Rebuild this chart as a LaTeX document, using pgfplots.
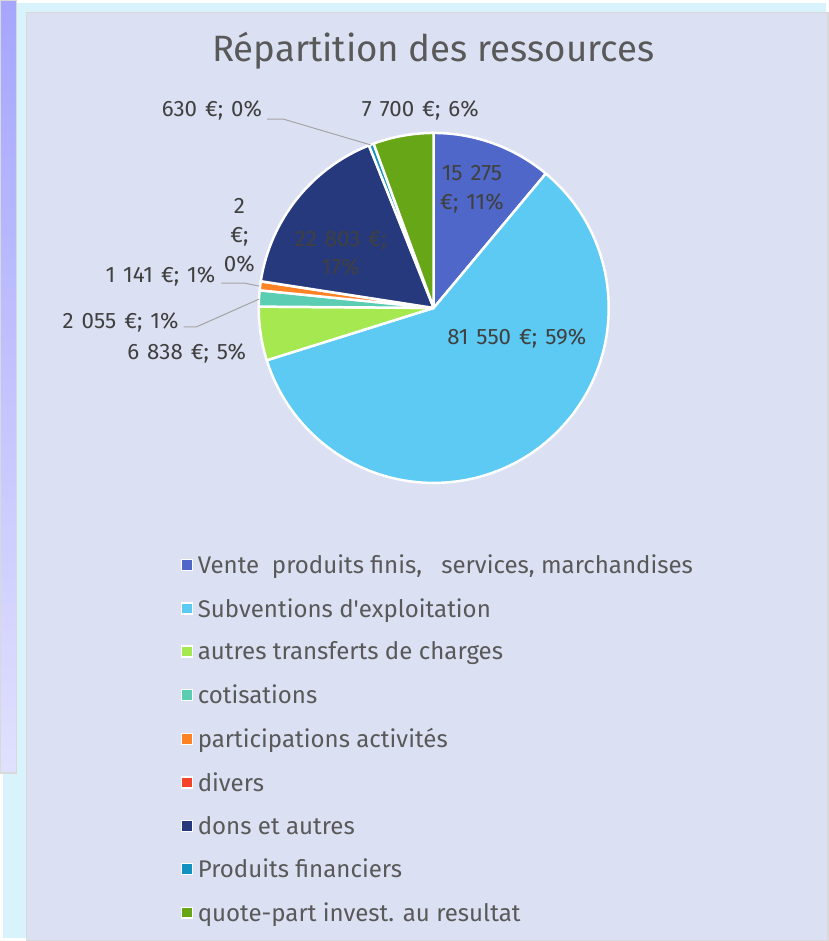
\documentclass[border=0pt]{standalone}
\usepackage{pgfplots}
\pgfplotsset{compat=1.18}
\usepackage{pgfplotstable}
\usepackage{fontspec}
\setmainfont{Fira Sans}
\newfontfamily\etiq[WordSpace=1.35]{Fira Sans}

% couleurs des parts (ordre de la legende)
\definecolor{s0}{HTML}{4F67C8}
\definecolor{s1}{HTML}{5CCAF2}
\definecolor{s2}{HTML}{A6E850}
\definecolor{s3}{HTML}{5ACDB2}
\definecolor{s4}{HTML}{FF8225}
\definecolor{s5}{HTML}{F44326}
\definecolor{s6}{HTML}{27397D}
\definecolor{s7}{HTML}{1192C0}
\definecolor{s8}{HTML}{67A616}
\definecolor{panel}{HTML}{DCE0F3}
\definecolor{txt}{HTML}{404040}
\definecolor{ttl}{HTML}{595959}
\definecolor{leader}{HTML}{A5A5A5}

% ressources en euros
\pgfplotstableread{
valeur
15275
81550
6838
2055
1141
2
22803
630
7700
}\ressources

\begin{document}
\begin{tikzpicture}
% angles des parts, depuis midi, sens horaire (\fpeval : pas de limite a 16383)
\xdef\total{0}
\pgfplotsforeachungrouped \i in {0,...,8}{%
  \pgfplotstablegetelem{\i}{valeur}\of\ressources
  \xdef\total{\fpeval{\total+\pgfplotsretval}}%
}
\xdef\cum{0}
\pgfplotsforeachungrouped \i in {0,...,8}{%
  \pgfplotstablegetelem{\i}{valeur}\of\ressources
  \expandafter\xdef\csname deb\i\endcsname{\fpeval{round(90-360*\cum/\total,4)}}%
  \xdef\cum{\fpeval{\cum+\pgfplotsretval}}%
  \expandafter\xdef\csname fin\i\endcsname{\fpeval{round(90-360*\cum/\total,4)}}%
}
\begin{axis}[width=828bp,height=941bp,scale only axis,
  xmin=0,xmax=828,ymin=0,ymax=941,hide axis,clip=false,
  legend style={at={(axis cs:176,390)},anchor=north west,draw=none,fill=none,
    font=\fontsize{24.3}{28}\selectfont,text=ttl,row sep=19.5bp,
    nodes={inner xsep=4.5bp}},
  legend cell align=left,
  legend image code/.code={\draw[#1,draw=white,line width=1.5bp] (0bp,-5.5bp) rectangle (11bp,5.5bp);}]
% fond
\fill[fill=white!85!cyan] (axis cs:0,0) rectangle (axis cs:828,941);
\shade[top color=blue!35!white,bottom color=blue!12!white,draw=black!15,line width=1.5bp]
  (axis cs:-2,166) rectangle (axis cs:14,943);
\fill[panel,draw=black!15,line width=1.5bp] (axis cs:24,-2) rectangle (axis cs:830,931);
% titre
\node[text=ttl,font=\fontsize{37}{42}\selectfont] at (axis cs:433,893) {Répartition des ressources};
% parts
\pgfplotsinvokeforeach{0,...,8}{%
  \edef\tmp{\noexpand\fill[s#1,draw=white,line width=2.5bp,line join=round]
    (axis cs:433.5,634) -- ++(\csname deb#1\endcsname:176bp)
    arc[start angle=\csname deb#1\endcsname,end angle=\csname fin#1\endcsname,radius=176bp] -- cycle;}%
  \tmp
}
% lignes de rappel
\draw[leader,line width=1bp] (axis cs:266,824) -- (axis cs:282,824) -- (axis cs:370,798);
\draw[leader,line width=1bp] (axis cs:220,659) -- (axis cs:243,659) -- (axis cs:258,656);
\draw[leader,line width=1bp] (axis cs:182,615) -- (axis cs:195,615) -- (axis cs:258,643);
% etiquettes
\begin{scope}[every node/.style={text=txt,font=\etiq\fontsize{22.5}{29}\selectfont,inner sep=1bp}]
\node[anchor=east] at (axis cs:262,833) {630 €; 0\%};
\node at (axis cs:420,833) {7 700 €; 6\%};
\node[align=center] at (axis cs:472,753) {15 275\\€; 11\%};
\node at (axis cs:517,603) {81 550 €; 59\%};
\node[align=center] at (axis cs:340,689) {22 803 €;\\17\%};
\node[align=center] at (axis cs:238,707) {2\\€;\\0\%};
\node[anchor=east] at (axis cs:215,666) {1 141 €; 1\%};
\node[anchor=east] at (axis cs:178,619) {2 055 €; 1\%};
\node[anchor=east] at (axis cs:246,588) {6 838 €; 5\%};
\end{scope}
% legende
\addlegendimage{fill=s0}\addlegendentry{Vente\ \ produits finis,\ \ \ services, marchandises}
\addlegendimage{fill=s1}\addlegendentry{Subventions d\textquotesingle exploitation}
\addlegendimage{fill=s2}\addlegendentry{autres transferts de charges}
\addlegendimage{fill=s3}\addlegendentry{cotisations}
\addlegendimage{fill=s4}\addlegendentry{participations activités}
\addlegendimage{fill=s5}\addlegendentry{divers}
\addlegendimage{fill=s6}\addlegendentry{dons et autres}
\addlegendimage{fill=s7}\addlegendentry{Produits financiers}
\addlegendimage{fill=s8}\addlegendentry{quote-part invest. au resultat}
\end{axis}
\end{tikzpicture}
\end{document}
